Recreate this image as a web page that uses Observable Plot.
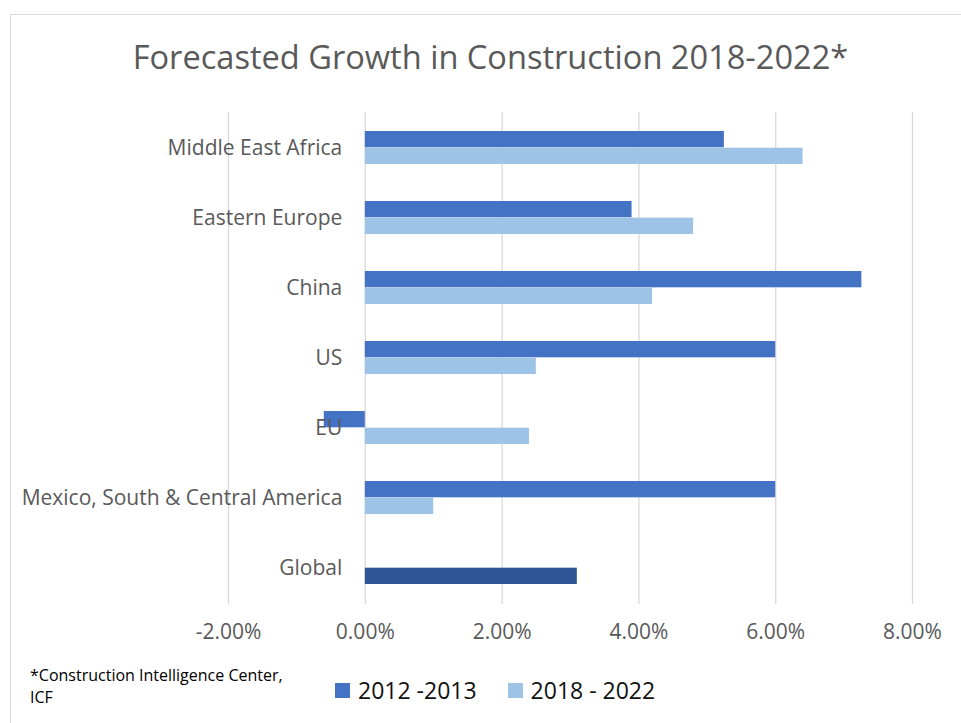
<!DOCTYPE html>
<html>
<head>
<meta charset="utf-8">
<script src="https://cdn.jsdelivr.net/npm/d3@7"></script>
<script src="https://cdn.jsdelivr.net/npm/@observablehq/plot@0.6"></script>
<style>
  body { margin: 0; background: #fff; }
  #wrap { position: relative; width: 961px; height: 723px; overflow: hidden; font-family: "Open Sans", sans-serif; background: #fff; }
  #frame { position: absolute; left: 10px; top: 14px; width: 1000px; height: 800px; border: 1.5px solid #d9d9d9; box-sizing: border-box; }
  #chart { position: absolute; left: 0; top: 0; }
  #title { position: absolute; left: 0; width: 981px; top: 40px; text-align: center; font-size: 32.6px; line-height: 33px; color: #595959; white-space: nowrap; }
  #caption { position: absolute; left: 30px; top: 664px; font-size: 16px; line-height: 22px; color: #000; }
  #legend { position: absolute; left: 335px; top: 676px; display: flex; align-items: center; font-size: 23px; line-height: 28px; color: #111; white-space: nowrap; }
  .sw { display: inline-block; width: 15px; height: 15px; margin-right: 8px; }
  .item { display: flex; align-items: center; margin-right: 31px; }
</style>
</head>
<body>
<div id="wrap">
  <div id="frame"></div>
  <div id="chart"></div>
  <div id="title"></div>
  <div id="caption"></div>
  <div id="legend"></div>
</div>
<script>
// ---- data ----
const titleText = "Forecasted Growth in Construction 2018-2022*";
const captionLines = ["*Construction Intelligence Center,", "ICF"];
const categories = ["Middle East Africa", "Eastern Europe", "China", "US", "EU", "Mexico, South & Central America", "Global"];
const seriesNames = ["2012 -2013", "2018 - 2022"];
const values2012 = [0.0525, 0.039, 0.0726, 0.060, -0.006, 0.060, null];
const values2018 = [0.064, 0.048, 0.042, 0.025, 0.024, 0.010, 0.031];
const tickValues = [-0.02, 0, 0.02, 0.04, 0.06, 0.08];
const colors = {dark: "#4472C4", light: "#9DC3E6", global: "#2F5597"};

// ---- tables ----
const rows2012 = categories.map((c, i) => ({category: c, value: values2012[i]})).filter(d => d.value != null);
const rows2018 = categories.map((c, i) => ({category: c, value: values2018[i]})).filter(d => d.value != null);
const fmt = d => (d * 100).toFixed(2) + "%";

const step = (604 - 112) / categories.length;
const half = step * 0.475 / 2;

const chart = Plot.plot({
  width: 961,
  height: 723,
  marginTop: 112,
  marginBottom: 119,
  marginLeft: 228,
  marginRight: 49,
  style: {background: "transparent", fontFamily: "Open Sans, sans-serif"},
  x: {domain: [-0.02, 0.08], axis: null},
  y: {domain: categories, axis: null, paddingInner: 0.525, paddingOuter: 0.2625},
  color: {type: "identity"},
  marks: [
    Plot.gridX(tickValues, {stroke: "#d9d9d9", strokeOpacity: 1, strokeWidth: 1.3}),
    Plot.barX(rows2012, {x: "value", y: "category", fill: colors.dark, insetBottom: half}),
    Plot.barX(rows2018, {x: "value", y: "category", fill: d => d.category === "Global" ? colors.global : colors.light, insetTop: half}),
    Plot.text(categories, {x: 0, y: d => d, text: d => d, dx: -23, textAnchor: "end", fontSize: 21, fill: "#595959"}),
    Plot.text(tickValues, {x: d => d, frameAnchor: "bottom", dy: 34, text: fmt, fontSize: 21, fill: "#595959"})
  ]
});
document.getElementById("chart").appendChild(chart);

document.getElementById("title").textContent = titleText;
document.getElementById("caption").innerHTML = captionLines.join("<br>");
const legend = document.getElementById("legend");
[colors.dark, colors.light].forEach((c, i) => {
  const item = document.createElement("span");
  item.className = "item";
  const sw = document.createElement("span");
  sw.className = "sw";
  sw.style.background = c;
  item.appendChild(sw);
  item.appendChild(document.createTextNode(seriesNames[i]));
  legend.appendChild(item);
});
</script>
</body>
</html>
